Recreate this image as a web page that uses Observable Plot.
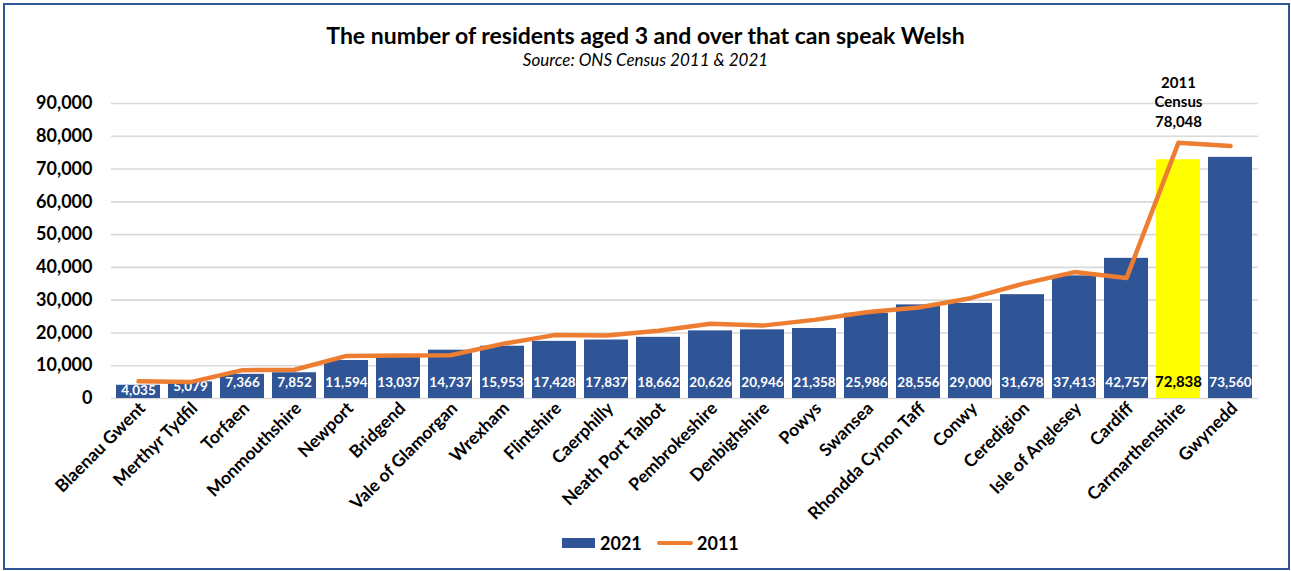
<!DOCTYPE html>
<html>
<head>
<meta charset="utf-8">
<script src="https://cdn.jsdelivr.net/npm/d3@7"></script>
<script src="https://cdn.jsdelivr.net/npm/@observablehq/plot@0.6"></script>
<style>
  html, body { margin: 0; padding: 0; background: #fff; }
  body { width: 1291px; height: 571px; position: relative; overflow: hidden; font-family: Lato, "Open Sans", sans-serif; }
  #frame { position: absolute; left: 3px; top: 3px; width: 1287px; height: 567px; box-sizing: border-box; border: 2px solid #2F5597; }
  #title { position: absolute; left: 0; width: 1291px; top: 21px; text-align: center; font-weight: 700; font-size: 23px; line-height: 28px; color: #000; }
  #subtitle { position: absolute; left: 0; width: 1291px; top: 50px; text-align: center; font-style: italic; font-size: 17px; line-height: 20px; color: #000; }
  #chart { position: absolute; left: 0; top: 70px; }
  #legend { position: absolute; top: 532px; left: 0; width: 1291px; height: 22px; }
  .sw { position: absolute; }
  .lt { position: absolute; font-weight: 700; font-size: 18px; color: #000; top: 0; }
</style>
</head>
<body>
<div id="frame"></div>
<div id="title">The number of residents aged 3 and over that can speak Welsh</div>
<div id="subtitle">Source: ONS Census 2011 &amp; 2021</div>
<div id="chart"></div>
<div id="legend">
  <div class="sw" style="left:562px; top:6px; width:33px; height:10px; background:#2F5597;"></div>
  <div class="lt" style="left:600px;">2021</div>
  <div class="sw" style="left:657px; top:9px; width:36px; height:4px; background:#ED7D31; border-radius:2px;"></div>
  <div class="lt" style="left:697px;">2011</div>
</div>
<script>
const areas = ["Blaenau Gwent", "Merthyr Tydfil", "Torfaen", "Monmouthshire", "Newport", "Bridgend",
  "Vale of Glamorgan", "Wrexham", "Flintshire", "Caerphilly", "Neath Port Talbot", "Pembrokeshire",
  "Denbighshire", "Powys", "Swansea", "Rhondda Cynon Taff", "Conwy", "Ceredigion", "Isle of Anglesey",
  "Cardiff", "Carmarthenshire", "Gwynedd"];
const v2021 = [4035, 5079, 7366, 7852, 11594, 13037, 14737, 15953, 17428, 17837, 18662, 20626,
  20946, 21358, 25986, 28556, 29000, 31678, 37413, 42757, 72838, 73560];
const v2011 = [5284, 5008, 8641, 8780, 13002, 13103, 13189, 16659, 19343, 19251, 20698, 22786,
  22236, 23990, 26332, 27779, 30600, 34964, 38568, 36735, 78048, 77000];
const yTicks = [0, 10000, 20000, 30000, 40000, 50000, 60000, 70000, 80000, 90000];
const highlight = "Carmarthenshire";
const annotationLabel = "2011\nCensus";

const fmt = d3.format(",");
const rows = areas.map((a, i) => ({area: a, v21: v2021[i], v11: v2011[i]}));
const annot = rows.filter(d => d.area === highlight);

const chart = Plot.plot({
  width: 1291,
  height: 465,
  marginLeft: 111,
  marginRight: 33,
  marginTop: 33,
  marginBottom: 137,
  style: {fontFamily: "Lato, 'Open Sans', sans-serif", color: "#000", background: "transparent", overflow: "visible"},
  x: {domain: areas, paddingInner: 0.152, paddingOuter: 0.075, label: null},
  y: {domain: [0, 90000], label: null},
  marks: [
    Plot.ruleY(yTicks, {stroke: "#d9d9d9", strokeWidth: 1.6}),
    Plot.barY(rows, {x: "area", y: "v21", fill: d => d.area === highlight ? "#FFFF00" : "#2F5597"}),
    Plot.text(rows, {x: "area", y: d => Math.min(4970, d.v21 - 1525), text: d => fmt(d.v21),
      fill: d => d.area === highlight ? "#000" : "#fff", fontWeight: 700,
      fontSize: d => d.area === highlight ? 15 : 13.5, lineAnchor: "middle"}),
    Plot.lineY(rows, {x: "area", y: "v11", stroke: "#ED7D31", strokeWidth: 4.5, strokeLinecap: "round", strokeLinejoin: "round"}),
    Plot.text(annot, {x: "area", y: "v11", text: d => annotationLabel + "\n" + fmt(d.v11),
      fontWeight: 700, fontSize: 15, lineHeight: 1.3, lineAnchor: "bottom", dy: -16, fill: "#000"}),
    Plot.axisY({ticks: yTicks, tickFormat: fmt, tickSize: 0, tickPadding: 19, fontSize: 18, fontWeight: 700, label: null}),
    Plot.axisX({tickSize: 0, tickRotate: -45, tickPadding: 7, dx: 4, fontSize: 17.5, fontWeight: 700, label: null})
  ]
});
document.getElementById("chart").appendChild(chart);
</script>
</body>
</html>
